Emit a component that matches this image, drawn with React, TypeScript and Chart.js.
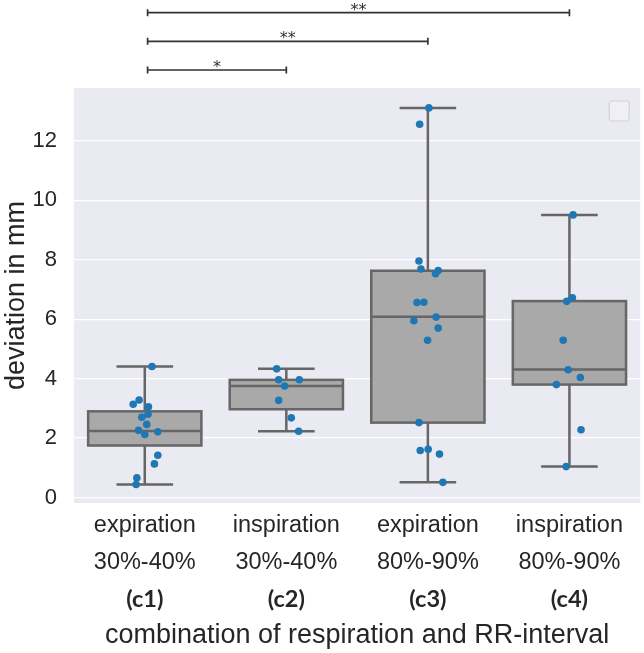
import React, { useEffect, useRef } from "react";
import { Chart, registerables } from "chart.js";

Chart.register(...registerables);

// ---- data ----
const labelLine1 = ["expiration", "inspiration", "expiration", "inspiration"];
const labelLine2 = ["30%-40%", "30%-40%", "80%-90%", "80%-90%"];
const groupCodes = ["(c1)", "(c2)", "(c3)", "(c4)"];

const boxQ1 = [1.75, 2.97, 2.52, 3.8];
const boxMedian = [2.24, 3.75, 6.08, 4.31];
const boxQ3 = [2.9, 3.96, 7.63, 6.61];
const whiskerLow = [0.44, 2.23, 0.51, 1.04];
const whiskerHigh = [4.41, 4.33, 13.11, 9.51];

const c1Values = [4.41, 3.28, 3.14, 3.05, 2.8, 2.7, 2.46, 2.26, 2.12, 2.21, 1.42, 1.13, 0.66, 0.44];
const c1Jitter = [0.051, -0.04, -0.082, 0.026, 0.023, -0.021, 0.014, -0.044, 0.0, 0.092, 0.092, 0.068, -0.056, -0.061];
const c2Values = [4.33, 3.96, 3.96, 3.75, 3.27, 2.68, 2.23];
const c2Jitter = [-0.068, -0.054, 0.092, -0.012, -0.054, 0.035, 0.087];
const c3Values = [13.11, 12.56, 7.96, 7.69, 7.64, 7.53, 6.56, 6.57, 6.07, 5.95, 5.7, 5.29, 2.52, 1.58, 1.62, 1.46, 0.51];
const c3Jitter = [0.007, -0.058, -0.063, -0.049, 0.073, 0.054, -0.077, -0.028, 0.058, -0.099, 0.073, -0.002, -0.063, -0.054, 0.002, 0.082, 0.106];
const c4Values = [9.51, 6.72, 6.6, 5.29, 4.3, 4.04, 3.8, 2.28, 1.04];
const c4Jitter = [0.026, 0.021, -0.019, -0.044, -0.009, 0.077, -0.092, 0.082, -0.023];

const yTicks = [0, 2, 4, 6, 8, 10, 12];

const bracketStart = [0.02, 0.02, 0.02];
const bracketEnd = [1, 2, 3];
const bracketText = ["*", "**", "**"];

const yTitle = "deviation in mm";
const xTitle = "combination of respiration and RR-interval";

// ---- helpers ----
const TEXT = "#262626";
const FONT = "'Liberation Sans', Arial, sans-serif";

const allValues = [c1Values, c2Values, c3Values, c4Values];
const allJitter = [c1Jitter, c2Jitter, c3Jitter, c4Jitter];
const points: { x: number; y: number }[] = [];
allValues.forEach((vals, g) => {
  vals.forEach((v, k) => points.push({ x: g + allJitter[g][k], y: v }));
});

const bgPlugin = {
  id: "bgPlugin",
  beforeDraw(chart: any) {
    const { ctx, chartArea } = chart;
    ctx.save();
    ctx.fillStyle = "#eaeaf2";
    ctx.fillRect(chartArea.left, chartArea.top, chartArea.right - chartArea.left, chartArea.bottom - chartArea.top);
    ctx.restore();
  },
};

const boxPlugin = {
  id: "boxPlugin",
  beforeDatasetsDraw(chart: any) {
    const { ctx } = chart;
    const xs = chart.scales.x;
    const ys = chart.scales.y;
    ctx.save();
    ctx.lineWidth = 2.5;
    ctx.strokeStyle = "#666666";
    for (let i = 0; i < boxQ1.length; i++) {
      const xc = xs.getPixelForValue(i);
      const xl = xs.getPixelForValue(i - 0.4);
      const xr = xs.getPixelForValue(i + 0.4);
      const cl = xs.getPixelForValue(i - 0.2);
      const cr = xs.getPixelForValue(i + 0.2);
      const yq1 = ys.getPixelForValue(boxQ1[i]);
      const yq3 = ys.getPixelForValue(boxQ3[i]);
      const ym = ys.getPixelForValue(boxMedian[i]);
      const ylo = ys.getPixelForValue(whiskerLow[i]);
      const yhi = ys.getPixelForValue(whiskerHigh[i]);
      // whiskers
      ctx.beginPath();
      ctx.moveTo(xc, yq3);
      ctx.lineTo(xc, yhi);
      ctx.moveTo(cl, yhi);
      ctx.lineTo(cr, yhi);
      ctx.moveTo(xc, yq1);
      ctx.lineTo(xc, ylo);
      ctx.moveTo(cl, ylo);
      ctx.lineTo(cr, ylo);
      ctx.stroke();
      // box
      ctx.fillStyle = "#a9a9a9";
      ctx.fillRect(xl, yq3, xr - xl, yq1 - yq3);
      ctx.strokeRect(xl, yq3, xr - xl, yq1 - yq3);
      // median
      ctx.beginPath();
      ctx.moveTo(xl, ym);
      ctx.lineTo(xr, ym);
      ctx.stroke();
    }
    ctx.restore();
  },
};

const overlayPlugin = {
  id: "overlayPlugin",
  afterDraw(chart: any) {
    const { ctx } = chart;
    const xs = chart.scales.x;
    ctx.save();
    // group codes under tick labels
    ctx.fillStyle = TEXT;
    ctx.font = "bold 23.5px Lato, 'Open Sans', sans-serif";
    ctx.textAlign = "center";
    ctx.textBaseline = "middle";
    groupCodes.forEach((c, i) => {
      ctx.fillText(c, xs.getPixelForValue(i), 599);
    });
    // significance brackets
    const levels = [70, 41.3, 12.7];
    ctx.strokeStyle = "#333333";
    ctx.lineWidth = 1.7;
    ctx.font = "16px 'DejaVu Sans', sans-serif";
    ctx.textBaseline = "alphabetic";
    for (let b = 0; b < bracketStart.length; b++) {
      const x0 = xs.getPixelForValue(bracketStart[b]);
      const x1 = xs.getPixelForValue(bracketEnd[b]);
      const y = levels[b];
      ctx.beginPath();
      ctx.moveTo(x0, y);
      ctx.lineTo(x1, y);
      ctx.moveTo(x0, y - 3.5);
      ctx.lineTo(x0, y + 3.5);
      ctx.moveTo(x1, y - 3.5);
      ctx.lineTo(x1, y + 3.5);
      ctx.stroke();
      ctx.fillStyle = "#333333";
      ctx.fillText(bracketText[b], (x0 + x1) / 2, y + 2);
    }
    // empty legend frame
    const area = chart.chartArea;
    const lx = area.right - 31;
    const ly = area.top + 13;
    ctx.beginPath();
    ctx.roundRect(lx, ly, 20, 20, 3.5);
    ctx.fillStyle = "rgba(255,255,255,0.25)";
    ctx.fill();
    ctx.strokeStyle = "#d2d2d8";
    ctx.lineWidth = 1.2;
    ctx.stroke();
    ctx.restore();
  },
};

export default function App() {
  const ref = useRef<HTMLCanvasElement | null>(null);
  useEffect(() => {
    if (!ref.current) return;
    const chart = new Chart(ref.current, {
      type: "scatter",
      data: {
        datasets: [
          {
            data: points,
            backgroundColor: "#1f77b4",
            borderWidth: 0,
            pointRadius: 3.8,
            pointHoverRadius: 3.8,
          },
        ],
      },
      options: {
        animation: false,
        responsive: true,
        maintainAspectRatio: false,
        layout: { padding: { top: 88, right: 2, left: 0, bottom: 0 } },
        plugins: { legend: { display: false }, tooltip: { enabled: false } },
        scales: {
          x: {
            type: "linear",
            min: -0.5,
            max: 3.5,
            grid: { display: false, drawTicks: false },
            border: { display: false },
            afterBuildTicks: (scale: any) => {
              scale.ticks = labelLine1.map((_, i) => ({ value: i }));
            },
            afterFit: (scale: any) => {
              scale.height = 150;
            },
            ticks: {
              padding: 4,
              color: TEXT,
              font: { family: FONT, size: 23.5, lineHeight: 1.58 },
              maxRotation: 0,
              autoSkip: false,
              callback: (v: any) => {
                const i = Math.round(Number(v));
                return [labelLine1[i], labelLine2[i]];
              },
            },
            title: {
              display: true,
              text: xTitle,
              color: TEXT,
              font: { family: FONT, size: 27, lineHeight: 1.2 },
              padding: { top: 0, bottom: 1 },
            },
          },
          y: {
            type: "linear",
            min: -0.185,
            max: 13.78,
            grid: { color: "#ffffff", lineWidth: 1.3, drawTicks: false },
            border: { display: false },
            afterBuildTicks: (scale: any) => {
              scale.ticks = yTicks.map((v) => ({ value: v }));
            },
            afterFit: (scale: any) => {
              scale.width = 74;
            },
            ticks: {
              padding: 17,
              color: TEXT,
              font: { family: FONT, size: 22 },
              callback: (v: any) => String(v),
            },
            title: {
              display: true,
              text: yTitle,
              color: TEXT,
              font: { family: FONT, size: 27, lineHeight: 1.2 },
              padding: { top: 0, bottom: 0 },
            },
          },
        },
      },
      plugins: [bgPlugin, boxPlugin, overlayPlugin],
    } as any);
    return () => chart.destroy();
  }, []);
  return (
    <div style={{ position: "absolute", left: 0, top: 0, width: 644, height: 653 }}>
      <canvas ref={ref} />
    </div>
  );
}
